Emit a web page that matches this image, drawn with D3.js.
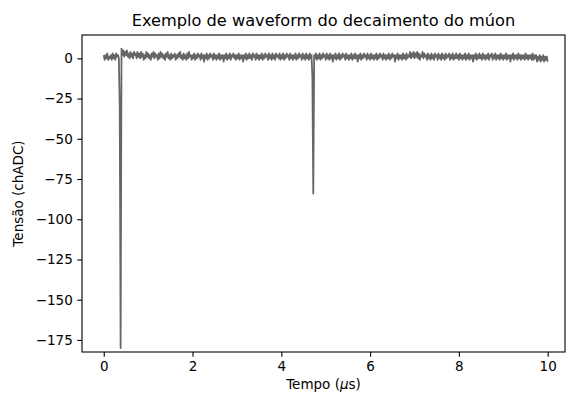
<!DOCTYPE html>
<html>
<head>
<meta charset="utf-8">
<script src="https://cdn.jsdelivr.net/npm/d3@7"></script>
<style>
  html, body { margin: 0; padding: 0; background: #fff; }
  svg { display: block; font-family: 'DejaVu Sans', sans-serif; }
</style>
</head>
<body>
<div id="chart"></div>
<script>
// waveform sampled every 0.02 us, starting at t = 0
const tStart = 0;
const tStep = 0.02;
const tension = [
  2, -1, 2, 0, 3, -1, 1, 0, 2, -1,
  3, 0, 2, -1, 3, 1, 2, 0, -30, -180,
  6, 2, 5, 1, 4, 2, 5, 1, 3, 0,
  4, 1, 3, 0, 4, 2, 3, 0, 4, 1,
  3, 0, 4, 1, 3, -1, 2, 0, 4, 1,
  3, 0, 2, -1, 3, 1, 4, 0, 3, 1,
  2, -1, 3, 0, 4, 1, 3, 0, 2, -1,
  3, 1, 4, 0, 2, -1, 3, 0, 2, 1,
  3, -1, 2, 0, 3, 1, 4, 0, 2, -1,
  3, 0, 2, -1, 3, 0, 4, 1, 2, -1,
  2, 0, 3, -1, 2, 0, 3, 1, 2, -1,
  3, 0, 2, -2, 2, 0, 3, -1, 2, 0,
  3, 1, 2, -1, 3, 0, 2, -1, 2, 0,
  3, -1, 2, 0, 2, -2, 2, 0, 3, -1,
  2, 0, 3, -1, 2, 1, 3, 0, 2, -1,
  2, 0, 3, -1, 2, 0, 2, -2, 2, 0,
  3, -1, 2, 0, 3, 0, 2, -1, 3, 1,
  2, -1, 3, 0, 2, -1, 2, 0, 3, -1,
  2, 0, 3, 1, 2, -1, 3, 0, 2, -1,
  3, 0, 2, -1, 3, 1, 2, 0, 3, -1,
  2, 0, 3, -1, 2, 0, 3, 1, 2, -1,
  3, 0, 2, -1, 2, 0, 3, -1, 2, 0,
  3, 1, 2, -1, 3, 0, 2, -1, 3, 0,
  2, -1, 3, 0, 2, -12, -84, 2, 0, 3,
  -1, 2, 0, 3, -1, 2, 0, 3, 1, 2,
  -1, 3, 0, 2, -1, 3, 0, 2, -2, 2,
  0, 3, -1, 2, 0, 3, -1, 2, 0, 3,
  1, 2, -1, 3, 0, 2, -1, 2, 0, 3,
  -1, 2, 0, 3, 0, 2, -2, 2, 0, 3,
  -1, 2, 0, 3, 1, 2, -1, 3, 0, 2,
  -1, 3, 0, 2, -1, 2, 0, 3, -1, 2,
  0, 3, 1, 2, -1, 3, 0, 2, -1, 2,
  0, 3, -1, 2, 0, 3, 1, 2, -2, 2,
  0, 3, -1, 2, 0, 2, -1, 3, 0, 2,
  -1, 3, 0, 2, 1, 4, 0, 3, 1, 4,
  0, 3, 1, 4, 0, 3, -1, 2, 1, 4,
  0, 3, 1, 2, -1, 3, 0, 2, -1, 3,
  0, 2, -1, 3, 1, 2, -1, 3, 0, 2,
  -1, 3, 0, 2, -1, 3, 0, 2, 1, 3,
  -1, 2, 0, 3, -1, 2, 0, 3, 0, 2,
  -1, 3, 0, 2, -1, 2, 0, 3, -1, 2,
  0, 3, -1, 2, 0, 2, -2, 2, 0, 3,
  -1, 2, 0, 3, 0, 2, -1, 3, 0, 2,
  -1, 2, 0, 3, -1, 2, 1, 3, -1, 2,
  0, 3, -1, 2, 0, 2, -1, 3, 0, 2,
  -1, 2, 0, 3, -1, 2, 0, 2, -2, 2,
  0, 3, -1, 2, 0, 2, -1, 3, 0, 2,
  -1, 2, 0, 2, -1, 3, 0, 2, -1, 2,
  0, 2, -1, 3, -1, 2, 0, 2, -2, 1,
  -1, 2, -2, 1, -1, 2, -2, 1, -1, 1,
  -2
];
const xTicks = [0, 2, 4, 6, 8, 10];
const yTicks = [0, -25, -50, -75, -100, -125, -150, -175];

const W = 568, H = 396;
const mLeft = 82, mRight = 565, mTop = 35, mBottom = 352;
const fontSize = 13.5;

const svg = d3.select('#chart')
  .append('svg')
  .attr('width', W)
  .attr('height', H);

const x = d3.scaleLinear().domain([-0.49, 10.39]).range([mLeft, mRight]);
const y = d3.scaleLinear().domain([-182.5, 14.5]).range([mBottom, mTop]);

const points = tension.map((v, i) => [tStart + i * tStep, v]);

const line = d3.line()
  .x(d => x(d[0]))
  .y(d => y(d[1]));

svg.append('defs').append('clipPath').attr('id', 'clip')
  .append('rect')
  .attr('x', mLeft).attr('y', mTop)
  .attr('width', mRight - mLeft).attr('height', mBottom - mTop);

svg.append('path')
  .datum(points)
  .attr('clip-path', 'url(#clip)')
  .attr('fill', 'none')
  .attr('stroke', '#666')
  .attr('stroke-width', 1.8)
  .attr('stroke-linejoin', 'round')
  .attr('d', line);

// axes
const xAxis = svg.append('g')
  .attr('transform', `translate(0,${mBottom})`)
  .call(d3.axisBottom(x).tickValues(xTicks).tickSizeOuter(0).tickSize(4.7).tickPadding(4.5).tickFormat(d3.format('d')));

const yAxis = svg.append('g')
  .attr('transform', `translate(${mLeft},0)`)
  .call(d3.axisLeft(y).tickValues(yTicks).tickSizeOuter(0).tickSize(4.7).tickPadding(4.5).tickFormat(d3.format('d')));

[xAxis, yAxis].forEach(g => {
  g.select('.domain').remove();
  g.selectAll('.tick line').attr('stroke', '#000').attr('stroke-width', 1.1);
  g.selectAll('.tick text')
    .attr('fill', '#000')
    .style('font-size', fontSize + 'px')
    .style('font-family', "'DejaVu Sans', sans-serif");
});

// spines
svg.append('rect')
  .attr('x', mLeft).attr('y', mTop)
  .attr('width', mRight - mLeft).attr('height', mBottom - mTop)
  .attr('fill', 'none')
  .attr('stroke', '#000')
  .attr('stroke-width', 1.1);

// title and labels
svg.append('text')
  .attr('x', (mLeft + mRight) / 2)
  .attr('y', 26)
  .attr('text-anchor', 'middle')
  .style('font-size', '16.2px')
  .text('Exemplo de waveform do decaimento do múon');

const xl = svg.append('text')
  .attr('x', (mLeft + mRight) / 2)
  .attr('y', 389)
  .attr('text-anchor', 'middle')
  .style('font-size', fontSize + 'px');
xl.append('tspan').text('Tempo (');
xl.append('tspan').attr('font-style', 'italic').text('μ');
xl.append('tspan').text('s)');

svg.append('text')
  .attr('transform', `translate(23,${(mTop + mBottom) / 2}) rotate(-90)`)
  .attr('text-anchor', 'middle')
  .style('font-size', fontSize + 'px')
  .text('Tensão (chADC)');
</script>
</body>
</html>
